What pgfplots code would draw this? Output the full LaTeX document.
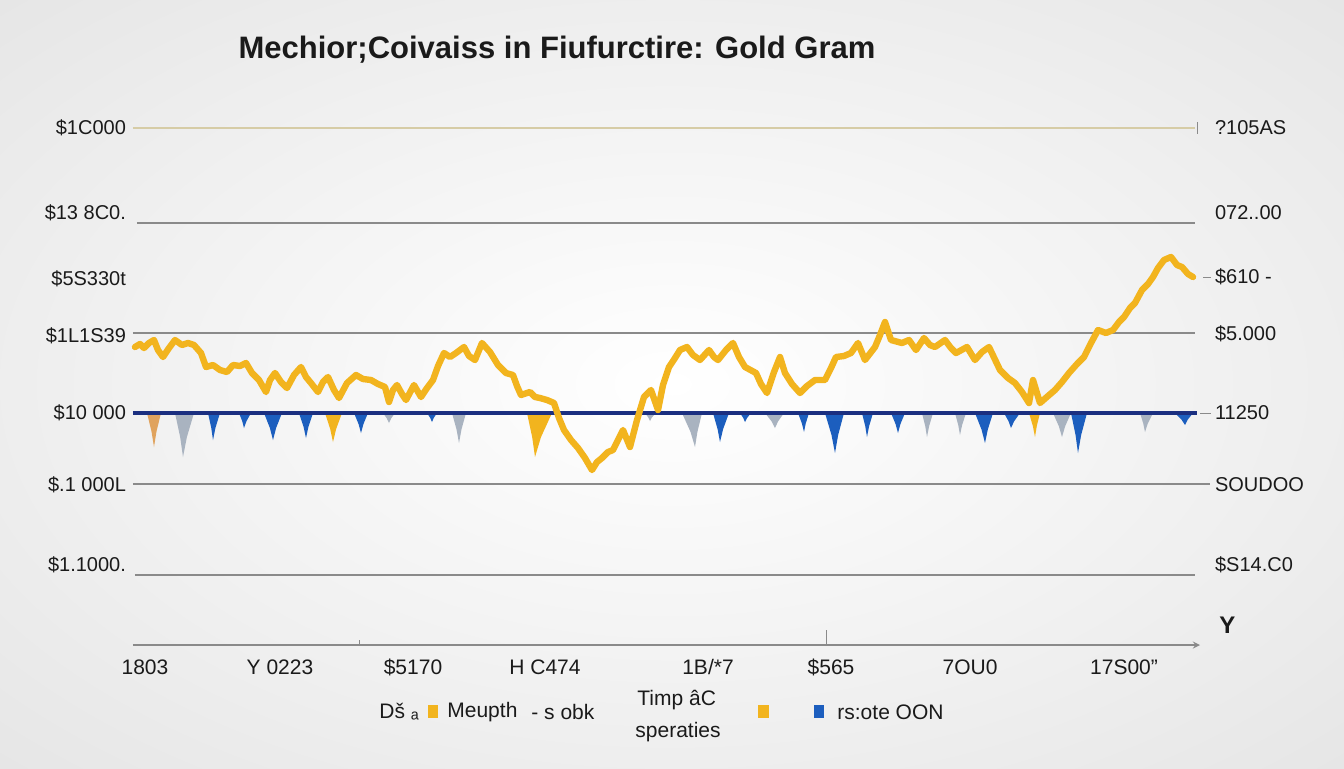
\documentclass[border=0pt]{standalone}
\usepackage{fontspec}
\setmainfont{Liberation Sans}
\usepackage{pgfplots}
\pgfplotsset{compat=1.18}
\definecolor{goldc}{HTML}{F2B41E}
\definecolor{bluec}{HTML}{1C5EBE}
\definecolor{grayc}{HTML}{A9B3C0}
\definecolor{tanc}{HTML}{E0A35E}
\definecolor{navyc}{HTML}{1B2F80}
\definecolor{gridc}{HTML}{8A8A8A}
\definecolor{topline}{HTML}{D6CCA6}
\definecolor{txt}{HTML}{1A1A1A}
\pgfdeclareradialshading{bgshade}{\pgfpoint{0bp}{0bp}}{color(0bp)=(white); color(22bp)=(black!6); color(50bp)=(black!14); color(72bp)=(black!17)}
\begin{document}
\begin{tikzpicture}
\pgfplotsset{
  common/.style={
    x=0.5pt, y=0.5pt, y dir=reverse,
    xmin=133, xmax=1200, ymin=115, ymax=645,
    axis line style={draw=none},
    major tick length=0pt,
    clip=false,
    tick label style={font=\fontsize{10}{12}\selectfont, text=txt},
  }
}
% background only
\begin{axis}[common, xtick=\empty, ytick=\empty]
\fill[shading=bgshade] (axis cs:0,0) rectangle (axis cs:1344,768);
\end{axis}
\begin{axis}[common,
  ytick={128,213,279,336,413,485,565},
  yticklabels={\$1C000, \$13 8C0., \$5S330t, \$1L1S39, \$10 000, \$.1 000L, \$1.1000.},
  yticklabel pos=left,
  xtick={145,280,413,545,708,831,970,1124},
  xticklabels={1803, Y 0223, \$5170, H C474, 1B/*7, \$565, 7OU0, 17S00''},
  xticklabel pos=bottom,
  xticklabel style={font=\fontsize{10.5}{12}\selectfont, yshift=-3pt, text height=8pt, text depth=2pt},
]
% title
\node[font=\fontsize{15.5}{18}\selectfont\bfseries, text=txt] at (axis cs:557,50) {Mechior;Coivaiss in Fiufurctire: Gold Gram};
% gridlines
\draw[topline, line width=0.9pt] (axis cs:133,128) -- (axis cs:1195,128);
\draw[gridc, line width=0.6pt] (axis cs:137,223) -- (axis cs:1195,223);
\draw[gridc, line width=0.6pt] (axis cs:133,333) -- (axis cs:1195,333);
\draw[gridc, line width=0.6pt] (axis cs:133,484) -- (axis cs:1210,484);
\draw[gridc, line width=0.6pt] (axis cs:135,575) -- (axis cs:1195,575);
\draw[gridc, line width=0.6pt, -stealth] (axis cs:133,645) -- (axis cs:1200,645);
\draw[gridc, line width=0.5pt] (axis cs:359,645) -- (axis cs:359,640);
\draw[gridc, line width=0.5pt] (axis cs:826,645) -- (axis cs:826,630);
% right side small marks
\draw[gridc, line width=0.5pt] (axis cs:1197,122) -- (axis cs:1197,134);
\draw[gridc, line width=0.5pt] (axis cs:1203,277) -- (axis cs:1211,277);
\draw[gridc, line width=0.5pt] (axis cs:1200,413) -- (axis cs:1211,413);
% spikes below baseline
\addplot[fill=tanc, draw=none] coordinates {(147,413)(151.55,431.7)(154,447)(156.45,431.7)(161,413)};
\addplot[fill=grayc, draw=none] coordinates {(175,413)(180.2,437.2)(183,457)(186.85,437.2)(194,413)};
\addplot[fill=bluec, draw=none] coordinates {(208,413)(211.25,427.85)(213,440)(215.45,427.85)(220,413)};
\addplot[fill=bluec, draw=none] coordinates {(239,413)(242.25,421.25)(244,428)(246.45,421.25)(251,413)};
\addplot[fill=bluec, draw=none] coordinates {(264,413)(269.85,427.85)(273,440)(276.15,427.85)(282,413)};
\addplot[fill=bluec, draw=none] coordinates {(299,413)(303.55,426.75)(306,438)(308.45,426.75)(313,413)};
\addplot[fill=goldc, draw=none] coordinates {(325,413)(330.2,428.95)(333,442)(336.15,428.95)(342,413)};
\addplot[fill=bluec, draw=none] coordinates {(354,413)(358.55,424)(361,433)(363.45,424)(368,413)};
\addplot[fill=grayc, draw=none] coordinates {(383,413)(386.9,418.5)(389,423)(391.1,418.5)(395,413)};
\addplot[fill=bluec, draw=none] coordinates {(427,413)(430.25,417.95)(432,422)(433.75,417.95)(437,413)};
\addplot[fill=grayc, draw=none] coordinates {(452,413)(456.55,429.5)(459,443)(461.45,429.5)(466,413)};
\addplot[fill=goldc, draw=none] coordinates {(527,413)(532.2,437.2)(535,457)(540.95,437.2)(552,413)};
\addplot[fill=grayc, draw=none] coordinates {(645,413)(648.25,417.4)(650,421)(651.9,417.4)(656,413)};
\addplot[fill=grayc, draw=none] coordinates {(682,413)(690.45,431.7)(695,447)(697.45,431.7)(702,413)};
\addplot[fill=bluec, draw=none] coordinates {(713,413)(717.55,428.95)(720,442)(723.15,428.95)(729,413)};
\addplot[fill=bluec, draw=none] coordinates {(740,413)(743.25,417.95)(745,422)(747.1,417.95)(751,413)};
\addplot[fill=grayc, draw=none] coordinates {(765,413)(771.5,421.25)(775,428)(778.15,421.25)(784,413)};
\addplot[fill=bluec, draw=none] coordinates {(798,413)(801.9,423.45)(804,432)(805.75,423.45)(809,413)};
\addplot[fill=bluec, draw=none] coordinates {(825,413)(831.5,435)(835,453)(838.15,435)(844,413)};
\addplot[fill=bluec, draw=none] coordinates {(862,413)(865.25,426.2)(867,437)(869.1,426.2)(873,413)};
\addplot[fill=bluec, draw=none] coordinates {(891,413)(895.55,424)(898,433)(900.45,424)(905,413)};
\addplot[fill=grayc, draw=none] coordinates {(922,413)(925.25,426.2)(927,437)(929.1,426.2)(933,413)};
\addplot[fill=grayc, draw=none] coordinates {(955,413)(958.25,425.1)(960,435)(962.1,425.1)(966,413)};
\addplot[fill=bluec, draw=none] coordinates {(975,413)(981.5,429.5)(985,443)(987.8,429.5)(993,413)};
\addplot[fill=bluec, draw=none] coordinates {(1004,413)(1008.55,421.25)(1011,428)(1014.15,421.25)(1020,413)};
\addplot[fill=goldc, draw=none] coordinates {(1029,413)(1032.9,426.2)(1035,437)(1036.75,426.2)(1040,413)};
\addplot[fill=grayc, draw=none] coordinates {(1053,413)(1058.85,426.2)(1062,437)(1065.15,426.2)(1071,413)};
\addplot[fill=bluec, draw=none] coordinates {(1071,413)(1075.55,435)(1078,453)(1081.15,435)(1087,413)};
\addplot[fill=grayc, draw=none] coordinates {(1140,413)(1143.25,423.45)(1145,432)(1147.8,423.45)(1153,413)};
\addplot[fill=bluec, draw=none] coordinates {(1175,413)(1181.5,419.6)(1185,425)(1187.8,419.6)(1193,413)};
% baseline
\draw[navyc, line width=1.6pt] (axis cs:133,413) -- (axis cs:1197,413);
% gold price line
\addplot[goldc, line width=3.2pt, line join=round, line cap=round] coordinates {
(135,347)(140,344)(144,348)(149,343)(154,340)(158,350)(163,357)(169,348)(175,340)(182,345)(188,343)(194,345)(201,353)(206,367)(213,365)(220,370)(227,372)(233,365)(240,366)(246,363)(252,373)(259,380)(266,392)(270,380)(275,373)(281,382)(287,388)(294,375)(301,367)(306,377)(311,383)(318,392)(323,382)(328,377)(334,390)(339,398)(347,383)(356,375)(363,379)(371,380)(378,384)(385,387)(389,402)(393,390)(397,385)(402,394)(406,400)(414,385)(421,397)(427,388)(433,380)(438,366)(444,353)(450,357)(456,353)(460,350)(464,347)(469,356)(475,360)(482,343)(490,352)(498,365)(506,373)(513,375)(517,386)(521,395)(530,392)(535,397)(540,398)(547,400)(554,403)(559,418)(564,430)(571,440)(578,448)(585,458)(592,470)(597,462)(602,458)(608,452)(613,450)(618,440)(623,430)(630,447)(637,420)(644,397)(651,390)(658,410)(663,385)(669,367)(675,358)(680,350)(687,347)(693,355)(700,360)(709,350)(714,357)(718,360)(726,350)(733,343)(739,357)(745,367)(756,373)(761,384)(767,393)(774,372)(780,357)(785,373)(792,384)(800,393)(807,386)(815,380)(825,380)(831,368)(836,357)(844,356)(851,353)(858,343)(865,360)(875,347)(880,335)(885,322)(891,340)(902,343)(909,340)(916,350)(924,338)(930,345)(935,347)(945,340)(951,348)(956,353)(967,347)(975,360)(982,352)(989,347)(1000,370)(1008,378)(1015,383)(1022,392)(1029,403)(1033,380)(1040,403)(1048,396)(1055,390)(1062,382)(1069,373)(1077,364)(1084,357)(1091,343)(1098,330)(1106,333)(1113,330)(1119,322)(1124,317)(1130,308)(1135,303)(1142,290)(1148,284)(1153,277)(1158,268)(1164,260)(1171,257)(1177,265)(1182,267)(1188,274)(1193,277)};
% legend
\fill[goldc] (axis cs:428,705) rectangle (axis cs:438,718);
\fill[goldc] (axis cs:758,705) rectangle (axis cs:769,718);
\fill[bluec] (axis cs:814,705) rectangle (axis cs:824,718);
\begin{scope}[every node/.style={font=\fontsize{10.5}{12}\selectfont, text=txt, inner sep=0pt}]
\node[anchor=west] at (axis cs:379,712) {Dš ₐ};
\node[anchor=west] at (axis cs:447,712) {Meupth};
\node[anchor=west] at (axis cs:531,712) {- s obk};
\node[anchor=west] at (axis cs:637,700) {Timp âC};
\node[anchor=west] at (axis cs:635,732) {speraties};
\node[anchor=west] at (axis cs:837,712) {rs:ote OON};
\node[anchor=west, font=\fontsize{12}{14}\selectfont\bfseries] at (axis cs:1219,625) {Y};
\end{scope}
\end{axis}
\begin{axis}[common,
  ytick={128,213,277,334,413,485,565},
  yticklabels={?105AS, 072..00, \$610 -, \$5.000, 11250, SOUDOO, \$S14.C0},
  yticklabel pos=right,
  yticklabel style={xshift=4pt},
  xtick=\empty,
]
\end{axis}
\end{tikzpicture}
\end{document}
